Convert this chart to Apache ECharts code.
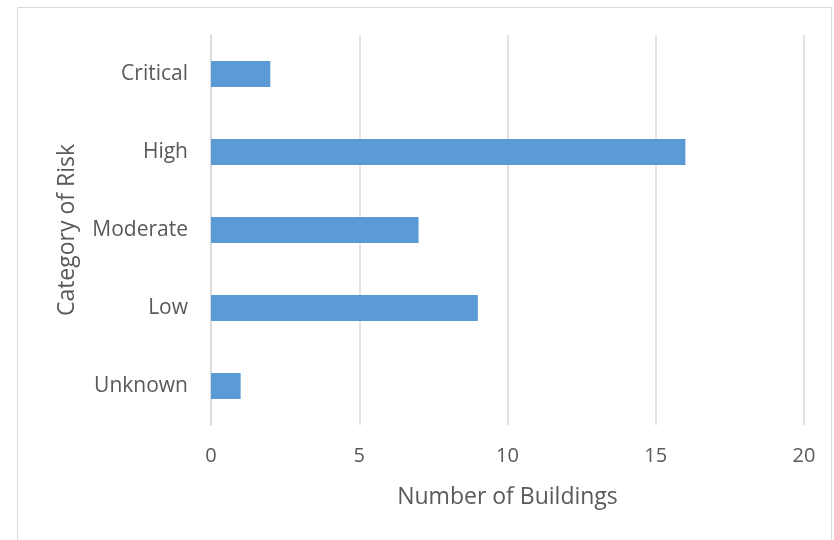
<!DOCTYPE html>
<html>
<head>
<meta charset="utf-8">
<script src="https://cdn.jsdelivr.net/npm/echarts@6/dist/echarts.min.js"></script>
<style>
  html, body { margin: 0; padding: 0; background: #fff; }
  #chart { width: 834px; height: 540px; }
</style>
</head>
<body>
<div id="chart"></div>
<script>
// Risk categories, bottom to top as drawn on the category axis
const categories = ['Unknown', 'Low', 'Moderate', 'High', 'Critical'];
const buildingCounts = [1, 9, 7, 16, 2];
const xTicks = [0, 5, 10, 15, 20];

const chart = echarts.init(document.getElementById('chart'), null, { renderer: 'canvas' });
const font = '"Open Sans", "Noto Sans", sans-serif';

chart.setOption({
  animation: false,
  backgroundColor: '#ffffff',
  graphic: [{
    type: 'rect',
    shape: { x: 17.5, y: 7.5, width: 814, height: 540 },
    style: { fill: 'none', stroke: '#d9d9d9', lineWidth: 1 },
    silent: true
  }],
  grid: { left: 211, right: 30, top: 35, bottom: 115, containLabel: false },
  xAxis: {
    type: 'value',
    min: xTicks[0],
    max: xTicks[xTicks.length - 1],
    interval: xTicks[1] - xTicks[0],
    name: 'Number of Buildings',
    nameLocation: 'middle',
    nameGap: 61,
    nameTextStyle: { fontFamily: font, fontSize: 23, color: '#595959' },
    axisLine: { show: false },
    axisTick: { show: false },
    axisLabel: { fontFamily: font, fontSize: 20, color: '#595959', margin: 21 },
    splitLine: { show: true, lineStyle: { color: '#d9d9d9', width: 1.5 } }
  },
  yAxis: {
    type: 'category',
    data: categories,
    name: 'Category of Risk',
    nameLocation: 'middle',
    nameGap: 132,
    nameTextStyle: { fontFamily: font, fontSize: 23, color: '#595959' },
    axisLine: { show: true, lineStyle: { color: '#d9d9d9', width: 1.5 } },
    axisTick: { show: false },
    axisLabel: { fontFamily: font, fontSize: 21, color: '#595959', margin: 23, padding: [7, 0, 0, 0] }
  },
  series: [{
    type: 'bar',
    data: buildingCounts,
    barWidth: 26,
    itemStyle: { color: '#5b9bd5' }
  }]
});
</script>
</body>
</html>
